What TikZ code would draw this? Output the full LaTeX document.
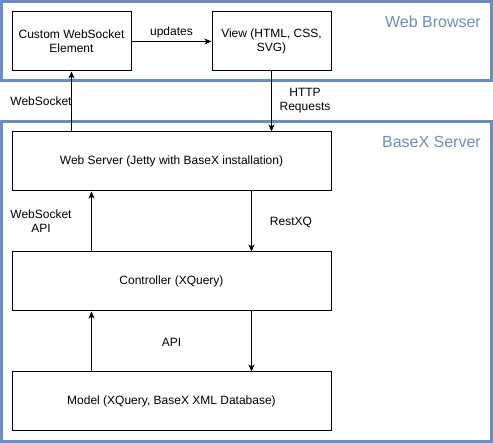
\documentclass[tikz,border=0pt]{standalone}
\usepackage{fontspec}
\setmainfont{Liberation Sans}
\usetikzlibrary{arrows.meta}

\definecolor{groupblue}{HTML}{6C8EBF}

\tikzstyle{group} = [draw=groupblue, line width=3pt]
\tikzstyle{grouplabel} = [text=groupblue, font=\fontsize{16}{18}\selectfont, anchor=east, inner sep=0pt]
\tikzstyle{smallbox} = [draw, line width=1pt, minimum width=119pt, minimum height=59pt, align=center, inner sep=0pt]
\tikzstyle{widebox} = [draw, line width=1pt, minimum width=319pt, minimum height=59pt, align=center, inner sep=0pt]
\tikzstyle{lbl} = [align=center, inner sep=0pt]
\tikzstyle{arr} = [-{Stealth[length=7pt,width=6pt,inset=2pt]}, line width=1pt]

\begin{document}
\begin{tikzpicture}[x=1pt, y=-1pt, font=\fontsize{12}{14}\selectfont]
      \useasboundingbox (0,0) rectangle (493,443);

      % containers
      \draw[group] (1.5,1.5) rectangle (491.5,80.5);
      \draw[group] (1.5,121.5) rectangle (491.5,441.5);
      \node[grouplabel] (browser) at (481,22) {Web Browser};
      \node[grouplabel] (basex) at (481,142) {BaseX Server};

      \node[smallbox] (cws) at (71.5,41.5) {Custom WebSocket\\Element};
      \node[smallbox] (view) at (271.5,41.5) {View (HTML, CSS,\\SVG)};
      \node[widebox] (web) at (171.5,161.5) {Web Server (Jetty with BaseX installation)};
      \node[widebox] (ctrl) at (171.5,281.5) {Controller (XQuery)};
      \node[widebox] (model) at (171.5,401.5) {Model (XQuery, BaseX XML Database)};

      \draw[arr] (cws) -- (view);
      \draw[arr] (web.north -| cws.south) -- (cws.south);
      \draw[arr] (view.south) -- (view.south |- web.north);
      \draw[arr] ([xshift=-80pt]ctrl.north) -- ([xshift=-80pt]web.south);
      \draw[arr] ([xshift=80pt]web.south) -- ([xshift=80pt]ctrl.north);
      \draw[arr] ([xshift=-80pt]model.north) -- ([xshift=-80pt]ctrl.south);
      \draw[arr] ([xshift=80pt]ctrl.south) -- ([xshift=80pt]model.north);

      \node[lbl] (upd) at (171.5,32) {updates};
      \node[lbl] (ws) at (41,101) {WebSocket};
      \node[lbl] (http) at (305,101) {HTTP\\Requests};
      \node[lbl] (wsapi) at (41,221) {WebSocket\\API};
      \node[lbl] (rest) at (291,222) {RestXQ};
      \node[lbl] (api) at (171.5,342) {API};
\end{tikzpicture}
\end{document}
